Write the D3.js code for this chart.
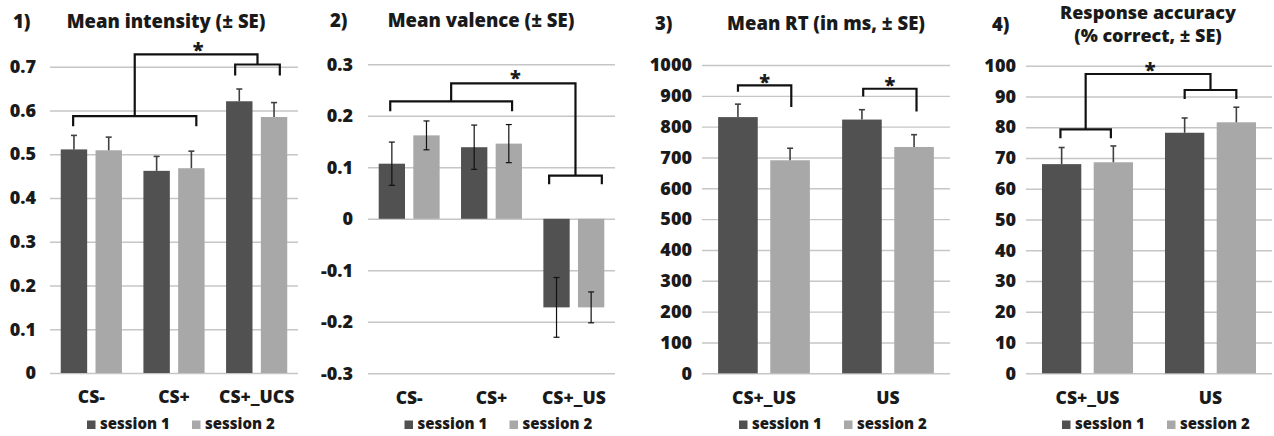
<!DOCTYPE html>
<html>
<head>
<meta charset="utf-8">
<script src="https://cdn.jsdelivr.net/npm/d3@7"></script>
<style>
  html, body { margin: 0; padding: 0; background: #ffffff; }
  svg { display: block; }
  text { font-family: "Open Sans", "Noto Sans", sans-serif; font-weight: 800; fill: #1a1a1a; }
</style>
</head>
<body>
<script>
// ---------------- DATA ----------------
const seriesNames = ["session 1", "session 2"];

// Panel 1: Mean intensity
const p1Categories = ["CS-", "CS+", "CS+_UCS"];
const p1Session1 = [0.511, 0.462, 0.621];
const p1Session2 = [0.509, 0.468, 0.585];
const p1Err1 = [0.032, 0.033, 0.028];
const p1Err2 = [0.030, 0.039, 0.033];
const p1Ticks = [0, 0.1, 0.2, 0.3, 0.4, 0.5, 0.6, 0.7];
const p1TickLabels = ["0", "0.1", "0.2", "0.3", "0.4", "0.5", "0.6", "0.7"];

// Panel 2: Mean valence
const p2Categories = ["CS-", "CS+", "CS+_US"];
const p2Session1 = [0.107, 0.139, -0.172];
const p2Session2 = [0.162, 0.146, -0.172];
const p2Err1 = [0.042, 0.043, 0.058];
const p2Err2 = [0.028, 0.037, 0.030];
const p2Ticks = [-0.3, -0.2, -0.1, 0, 0.1, 0.2, 0.3];
const p2TickLabels = ["-0.3", "-0.2", "-0.1", "0", "0.1", "0.2", "0.3"];

// Panel 3: Mean RT
const p3Categories = ["CS+_US", "US"];
const p3Session1 = [831, 823];
const p3Session2 = [691, 734];
const p3Err1 = [42, 32];
const p3Err2 = [39, 40];
const p3Ticks = [0, 100, 200, 300, 400, 500, 600, 700, 800, 900, 1000];
const p3TickLabels = ["0", "100", "200", "300", "400", "500", "600", "700", "800", "900", "1000"];

// Panel 4: Response accuracy
const p4Categories = ["CS+_US", "US"];
const p4Session1 = [68.0, 78.2];
const p4Session2 = [68.6, 81.6];
const p4Err1 = [5.4, 4.8];
const p4Err2 = [5.3, 4.9];
const p4Ticks = [0, 10, 20, 30, 40, 50, 60, 70, 80, 90, 100];
const p4TickLabels = ["0", "10", "20", "30", "40", "50", "60", "70", "80", "90", "100"];

// Significance brackets (category index + offset within band, values in data units)
const p1Brackets = [
  { c1: 0, o1: -0.22, c2: 1, o2: 0.27, y: 0.587, legL: 0.564, legR: 0.564 },
  { c1: 2, o1: -0.26, c2: 2, o2: 0.28, y: 0.705, legL: 0.680, legR: 0.680 }
];
const p1Links = [{ a: 0, b: 1, y: 0.728, star: 0.742 }];

const p2Brackets = [
  { c1: 0, o1: -0.23, c2: 1, o2: 0.25, y: 0.228, legL: 0.209, legR: 0.209 },
  { c1: 2, o1: -0.30, c2: 2, o2: 0.34, y: 0.084, legL: 0.067, legR: 0.067 }
];
const p2Links = [{ a: 0, b: 1, y: 0.263, star: 0.278 }];

const p3Brackets = [
  { c1: 0, o1: -0.21, c2: 0, o2: 0.22, y: 934, legL: 913, legR: 864, star: 952 },
  { c1: 1, o1: -0.20, c2: 1, o2: 0.23, y: 923, legL: 898, legR: 849, star: 943 }
];
const p3Links = [];

const p4Brackets = [
  { c1: 0, o1: -0.22, c2: 0, o2: 0.19, y: 79.3, legL: 76.4, legR: 76.4 },
  { c1: 1, o1: -0.21, c2: 1, o2: 0.21, y: 92.1, legL: 89.2, legR: 89.2 }
];
const p4Links = [{ a: 0, b: 1, y: 97.3, star: 99.2 }];

// ---------------- LAYOUT / STYLE ----------------
const W = 1274, H = 436;
const colors = ["#515151", "#a8a8a8"];
const FONT = '"Open Sans", "Noto Sans", sans-serif';

const panels = [
  { num: "1)", numX: 13, title: ["Mean intensity (± SE)"], titleX: 166, titleY: [28], titleSize: 18.5,
    cats: p1Categories, s1: p1Session1, s2: p1Session2, e1: p1Err1, e2: p1Err2,
    ticks: p1Ticks, labels: p1TickLabels, x0: 50, x1: 298, yTop: 66.7, yBot: 373,
    errMode: "up", brackets: p1Brackets, links: p1Links, tickPad: 14 },
  { num: "2)", numX: 330, title: ["Mean valence (± SE)"], titleX: 481, titleY: [27], titleSize: 18.5,
    cats: p2Categories, s1: p2Session1, s2: p2Session2, e1: p2Err1, e2: p2Err2,
    ticks: p2Ticks, labels: p2TickLabels, x0: 368, x1: 615, yTop: 64.3, yBot: 373.3,
    errMode: "both", brackets: p2Brackets, links: p2Links, tickPad: 15 },
  { num: "3)", numX: 655, title: ["Mean RT (in ms, ± SE)"], titleX: 826, titleY: [30], titleSize: 18.5,
    cats: p3Categories, s1: p3Session1, s2: p3Session2, e1: p3Err1, e2: p3Err2,
    ticks: p3Ticks, labels: p3TickLabels, x0: 702, x1: 950, yTop: 65, yBot: 373.3,
    errMode: "up", brackets: p3Brackets, links: p3Links, tickPad: 10 },
  { num: "4)", numX: 992, title: ["Response accuracy", "(% correct, ± SE)"], titleX: 1148, titleY: [19, 42], titleSize: 18,
    numY: 31,
    cats: p4Categories, s1: p4Session1, s2: p4Session2, e1: p4Err1, e2: p4Err2,
    ticks: p4Ticks, labels: p4TickLabels, x0: 1026, x1: 1272, yTop: 65.7, yBot: 373.3,
    errMode: "up", brackets: p4Brackets, links: p4Links, tickPad: 10 }
];

const svg = d3.select("body").append("svg").attr("width", W).attr("height", H);

panels.forEach(p => {
  const g = svg.append("g");
  const y = d3.scaleLinear()
    .domain([p.ticks[0], p.ticks[p.ticks.length - 1]])
    .range([p.yBot, p.yTop]);
  const x = d3.scaleBand().domain(d3.range(p.cats.length)).range([p.x0, p.x1]).padding(0);
  const bw = x.bandwidth();
  const inner = d3.scaleBand().domain([0, 1]).range([0.13 * bw, 0.87 * bw]).paddingInner(0.24).paddingOuter(0);
  const plotW = p.x1 - p.x0;

  // gridlines + y tick labels
  const yAxis = g.append("g")
    .attr("transform", `translate(${p.x0},0)`)
    .call(d3.axisLeft(y).tickValues(p.ticks).tickFormat((d, i) => p.labels[i])
      .tickSize(-plotW).tickPadding(p.tickPad));
  yAxis.select(".domain").remove();
  yAxis.selectAll(".tick line").attr("stroke", "#c6c6c6").attr("stroke-width", 1.4);
  yAxis.selectAll(".tick text").attr("font-size", 18).attr("fill", "#1a1a1a")
    .style("font-family", FONT).style("font-weight", 800);

  // bars
  const series = [p.s1, p.s2];
  const errs = [p.e1, p.e2];
  series.forEach((vals, si) => {
    g.append("g").selectAll("rect").data(vals).join("rect")
      .attr("x", (d, i) => x(i) + inner(si))
      .attr("width", inner.bandwidth())
      .attr("y", d => y(Math.max(0, d)))
      .attr("height", d => Math.abs(y(d) - y(0)))
      .attr("fill", colors[si]);
  });

  // error bars
  const errColor = p.errMode === "both" ? "#111" : "#404040";
  const errW = p.errMode === "both" ? 1.2 : 1.6;
  const capHalf = 3;
  series.forEach((vals, si) => {
    const eg = g.append("g").attr("stroke", errColor).attr("stroke-width", errW).attr("fill", "none");
    vals.forEach((v, i) => {
      const cx = x(i) + inner(si) + inner.bandwidth() / 2;
      const e = errs[si][i];
      const yHi = y(v + e);
      const yLo = p.errMode === "both" ? y(v - e) : y(v);
      eg.append("line").attr("x1", cx).attr("x2", cx).attr("y1", yHi).attr("y2", yLo);
      eg.append("line").attr("x1", cx - capHalf).attr("x2", cx + capHalf).attr("y1", yHi).attr("y2", yHi);
      if (p.errMode === "both")
        eg.append("line").attr("x1", cx - capHalf).attr("x2", cx + capHalf).attr("y1", yLo).attr("y2", yLo);
    });
  });

  // x labels
  const xAxis = g.append("g")
    .attr("transform", `translate(0,${p.yBot})`)
    .call(d3.axisBottom(x).tickFormat(i => p.cats[i]).tickSize(0).tickPadding(18));
  xAxis.select(".domain").remove();
  xAxis.selectAll(".tick text").attr("font-size", 17.5).attr("fill", "#1a1a1a")
    .style("font-family", FONT).style("font-weight", 800);

  // brackets
  const bx = (c, o) => x(c) + bw * (0.5 + o);
  const bg = g.append("g").attr("stroke", "#111").attr("stroke-width", 2.2).attr("fill", "none");
  const mids = [];
  p.brackets.forEach(b => {
    const xa = bx(b.c1, b.o1), xb = bx(b.c2, b.o2);
    bg.append("path").attr("d",
      `M${xa},${y(b.legL)}V${y(b.y)}H${xb}V${y(b.legR)}`);
    mids.push((xa + xb) / 2);
    if (b.star !== undefined) {
      g.append("text").attr("x", (xa + xb) / 2).attr("y", y(b.star) + 9)
        .attr("text-anchor", "middle").attr("font-size", 20).text("*");
    }
  });
  p.links.forEach(l => {
    const ba = p.brackets[l.a], bb = p.brackets[l.b];
    const ma = mids[l.a], mb = mids[l.b];
    bg.append("path").attr("d",
      `M${ma},${y(ba.y)}V${y(l.y)}H${mb}V${y(bb.y)}`);
    g.append("text").attr("x", (ma + mb) / 2 + 2).attr("y", y(l.star) + 9)
      .attr("text-anchor", "middle").attr("font-size", 20).text("*");
  });

  // titles
  g.append("text").attr("x", p.numX).attr("y", p.numY || p.titleY[0]).attr("font-size", 18.5).text(p.num);
  p.title.forEach((t, i) => {
    g.append("text").attr("x", p.titleX).attr("y", p.titleY[i]).attr("text-anchor", "middle")
      .attr("font-size", p.titleSize).text(t);
  });

  // legend
  const cx = (p.x0 + p.x1) / 2;
  const lg = g.append("g").attr("transform", `translate(${cx - 87},429)`);
  seriesNames.forEach((name, si) => {
    const ox = si * 105;
    lg.append("rect").attr("x", ox).attr("y", -8.5).attr("width", 8.5).attr("height", 8.5).attr("fill", colors[si]);
    lg.append("text").attr("x", ox + 13).attr("y", 0).attr("font-size", 15).text(name);
  });
});
</script>
</body>
</html>
